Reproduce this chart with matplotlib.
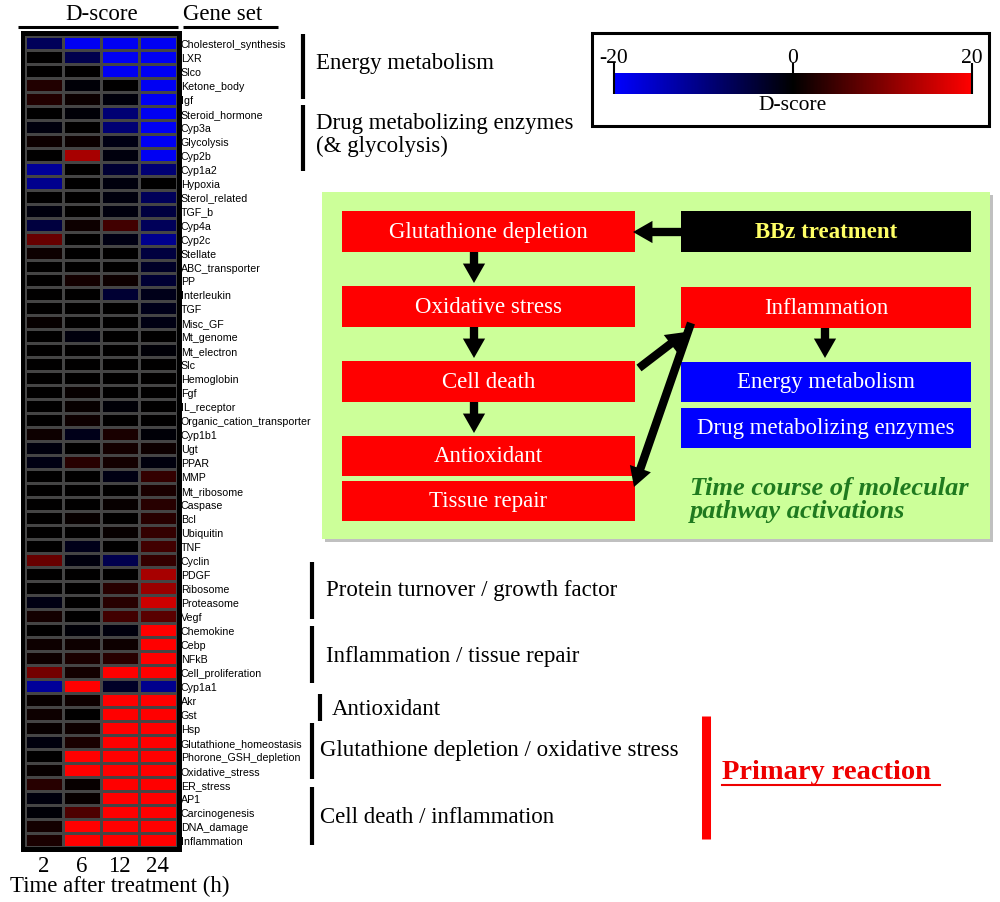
import numpy as np
import matplotlib
matplotlib.use("Agg")
import matplotlib.pyplot as plt
from matplotlib.colors import LinearSegmentedColormap
from matplotlib.patches import Rectangle

# ---- data ----
gene_sets = ["Cholesterol_synthesis", "LXR", "Slco", "Ketone_body", "Igf",
             "Steroid_hormone", "Cyp3a", "Glycolysis", "Cyp2b", "Cyp1a2",
             "Hypoxia", "Sterol_related", "TGF_b", "Cyp4a", "Cyp2c",
             "Stellate", "ABC_transporter", "PP", "Interleukin", "TGF",
             "Misc_GF", "Mt_genome", "Mt_electron", "Slc", "Hemoglobin",
             "Fgf", "IL_receptor", "Organic_cation_transporter", "Cyp1b1", "Ugt",
             "PPAR", "MMP", "Mt_ribosome", "Caspase", "Bcl",
             "Ubiquitin", "TNF", "Cyclin", "PDGF", "Ribosome",
             "Proteasome", "Vegf", "Chemokine", "Cebp", "NFkB",
             "Cell_proliferation", "Cyp1a1", "Akr", "Gst", "Hsp",
             "Glutathione_homeostasis", "Phorone_GSH_depletion", "Oxidative_stress",
             "ER_stress", "AP1", "Carcinogenesis", "DNA_damage", "Inflammation"]

times = ["2", "6", "12", "24"]

d_2h = [-7, 0, 0, 2.5, 2.5, 0, -1, 1, 0, -12,
        -11, 0, -1, -5, 8, 1, 0, 0, 0, 0,
        0.5, 0, 0, 0, 0, 0, 0, 0, 1, -1,
        -1.5, 0, 0, 0, 0, 0, 0, 8, 0, 0,
        -1.5, 1.5, 0, 1, 1, 9, -12, 0.5, 1, 0.5,
        -1, 0, 0.5, 3, -1, -0.5, 1.5, 2]
d_6h = [-19, -6, 0, -0.5, 0.8, -0.5, 0, 0.8, 13, 0,
        0, 0, 0, 1, 0, 0, 0, 1.5, 0, 0,
        0, -1, 0, 0, 0, 0.5, 0.5, 1, -2, 0,
        3, 0, 0, 0, 0.5, 0, -2, -1, 0, 0,
        0, 0, -0.5, 1, 2, 1.5, 20, 1, 0, 1,
        2, 20, 20, 0.5, 0.5, 6, 20, 20]
d_12h = [-19, -19, -19, 0, -0.8, -9, -9, -1.5, -1, -4,
         -1, -1, -1, 5, -1.5, 0, 0, 1, -4, 0,
         0, 0, 0, 0, 0, 0, -0.5, 0, 2, 1.5,
         1.5, -1.5, 0, 0.5, 0, 0.5, 0, -6, 0, 3,
         3, 5, -1, 1, 3, 20, -3, 20, 20, 20,
         20, 20, 20, 20, 20, 20, 20, 20]
d_24h = [-19, -19, -19, -19, -19, -19, -19, -19, -19, -9,
         0, -7, -5, -7, -11, -5, -3, -4, -2, -2,
         -1.5, 0, -0.5, 0, 0, 0, 0, 0, -0.5, 1,
         -1, 4, 2, 3, 3, 4, 5, 4, 13, 12,
         16, 7, 20, 20, 20, 20, -11, 20, 20, 20,
         20, 20, 20, 20, 20, 20, 20, 20]

cbar_ticks = [-20, 0, 20]

# bracket groups: (label, bar x, bar top, bar bottom, text x, text y)
brackets = [
    ("Energy metabolism", 303, 35, 100, 316, 64),
    ("Drug metabolizing enzymes\n(& glycolysis)", 303, 106, 172, 316, 135),
    ("Protein turnover / growth factor", 312, 563, 620, 326, 591),
    ("Inflammation / tissue repair", 312, 627, 684, 326, 657),
    ("Antioxidant", 320, 695, 722, 332, 710),
    ("Glutathione depletion / oxidative stress", 312, 724, 780, 320, 751),
    ("Cell death / inflammation", 312, 788, 846, 320, 818),
]

# pathway diagram boxes: (text, x0, y0, x1, y1, face, text colour)
boxes = [
    ("Glutathione depletion", 342, 212, 635, 253, "#ff0000", "white"),
    ("BBz treatment", 681, 212, 971, 253, "#000000", "#ffff66"),
    ("Oxidative stress", 342, 287, 635, 328, "#ff0000", "white"),
    ("Inflammation", 681, 288, 971, 329, "#ff0000", "white"),
    ("Cell death", 342, 362, 635, 403, "#ff0000", "white"),
    ("Energy metabolism", 681, 363, 971, 403, "#0000ff", "white"),
    ("Drug metabolizing enzymes", 681, 409, 971, 449, "#0000ff", "white"),
    ("Antioxidant", 342, 437, 635, 477, "#ff0000", "white"),
    ("Tissue repair", 342, 482, 635, 522, "#ff0000", "white"),
]

plt.rcParams["font.family"] = ["Liberation Serif", "DejaVu Serif"]

W, H = 1000, 903
fig = plt.figure(figsize=(W / 100, H / 100), dpi=100)

# full-figure overlay in pixel coordinates
ax0 = fig.add_axes([0, 0, 1, 1])
ax0.set_xlim(0, W)
ax0.set_ylim(H, 0)
ax0.axis("off")


def fig_rect(x0, y0, x1, y1):
    return [x0 / W, 1 - y1 / H, (x1 - x0) / W, (y1 - y0) / H]


cmap = LinearSegmentedColormap.from_list("dscore", ["#0000ff", "#000000", "#ff0000"])

# ---- heatmap ----
ax0.add_patch(Rectangle((20.5, 31.5), 161, 822, facecolor="black", edgecolor="none"))
axh = fig.add_axes(fig_rect(25, 36.7, 176.5, 848))
data = np.array([d_2h, d_6h, d_12h, d_24h]).T
mesh = axh.pcolormesh(data, cmap=cmap, vmin=-20, vmax=20,
                      edgecolors="#454545", linewidth=0.8)
axh.set_xlim(0, len(times))
axh.set_ylim(len(gene_sets), 0)
for s in axh.spines.values():
    s.set_visible(False)
axh.yaxis.tick_right()
axh.set_yticks(np.arange(len(gene_sets)) + 0.5)
axh.set_yticklabels(gene_sets, fontsize=7.7, family=["Liberation Sans", "DejaVu Sans"])
axh.tick_params(axis="y", length=0, pad=3)
axh.set_xticks(np.arange(len(times)) + 0.5)
axh.set_xticklabels(times, fontsize=16.5)
axh.tick_params(axis="x", length=0, pad=6)

ax0.text(102, 15, "D-score", fontsize=16.5, ha="center", va="center")
ax0.text(223, 15, "Gene set", fontsize=16.5, ha="center", va="center")
ax0.plot([18, 178], [28, 28], color="black", lw=2.2, solid_capstyle="butt")
ax0.plot([183, 278], [28, 28], color="black", lw=2.2, solid_capstyle="butt")
ax0.text(120, 886, "Time after treatment (h)", fontsize=16.5, ha="center", va="center")

# ---- bracket annotations ----
for label, bx, y0, y1, tx, ty in brackets:
    ax0.plot([bx, bx], [y0, y1], color="black", lw=3, solid_capstyle="butt")
    ax0.text(tx, ty, label, fontsize=16.5, ha="left", va="center", linespacing=1.15)

ax0.plot([706, 706], [717, 840], color="#ff0000", lw=6.5, solid_capstyle="butt")
ax0.text(722, 773, "Primary reaction", fontsize=20.5, fontweight="bold",
         color="#ee0000", ha="left", va="center")
ax0.plot([722, 940], [786, 786], color="#ee0000", lw=1.5)

# ---- colour scale ----
ax0.add_patch(Rectangle((592, 34), 397, 93, facecolor="white", edgecolor="black", lw=2.2))
cax = fig.add_axes(fig_rect(614, 74, 972, 95))
cbar = fig.colorbar(mesh, cax=cax, orientation="horizontal")
cbar.outline.set_visible(False)
cax.xaxis.tick_top()
cax.set_xticks(cbar_ticks)
cax.set_xticklabels([str(t) for t in cbar_ticks], fontsize=15.5)
cax.tick_params(axis="x", length=0, pad=4)
cax.vlines(cbar_ticks, 0, 1.5, transform=cax.get_xaxis_transform(),
           color="black", lw=1.5, clip_on=False, zorder=10)
cax.xaxis.set_label_position("bottom")
cax.set_xlabel("D-score", fontsize=15.5, labelpad=1)

# ---- pathway diagram ----
ax0.add_patch(Rectangle((325, 196), 668, 347, facecolor="#c0c0c0", edgecolor="none"))
ax0.add_patch(Rectangle((322, 193), 668, 347, facecolor="#ccff99", edgecolor="none"))
for text, x0, y0, x1, y1, face, tc in boxes:
    ax0.add_patch(Rectangle((x0, y0), x1 - x0, y1 - y0, facecolor=face, edgecolor="none"))
    ax0.text((x0 + x1) / 2, (y0 + y1) / 2, text, fontsize=16.5, color=tc,
             ha="center", va="center", fontweight="bold" if tc != "white" else "normal")

big = "simple,head_length=14,head_width=16,tail_width=6"
arrows = [
    ((682, 233), (633, 233)),
    ((474, 253), (474, 284)),
    ((474, 328), (474, 359)),
    ((474, 403), (474, 434)),
    ((825, 329), (825, 359)),
    ((639, 369), (686, 333)),
    ((691, 324), (634, 488)),
]
for tail, head in arrows:
    ax0.annotate("", xy=head, xytext=tail,
                 arrowprops=dict(arrowstyle=big, color="black", mutation_scale=1,
                                 shrinkA=0, shrinkB=0, lw=0))

ax0.text(690, 500, "Time course of molecular\npathway activations", fontsize=19,
         fontweight="bold", style="italic", color="#1f7a1f", ha="left", va="center",
         linespacing=1.0)

fig.savefig("out.png", dpi=100)
